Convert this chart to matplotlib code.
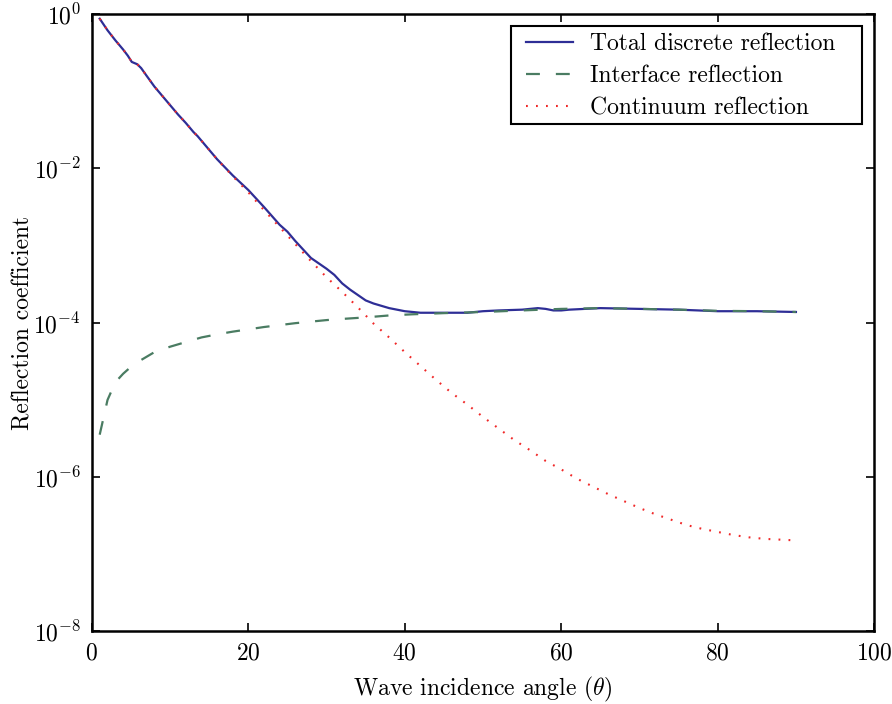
import numpy as np
import matplotlib
matplotlib.use("Agg")
import matplotlib.pyplot as plt
from matplotlib.patches import Rectangle
from matplotlib.ticker import NullLocator

plt.rcParams['font.family'] = 'serif'
plt.rcParams['font.serif'] = ['cmr10']
plt.rcParams['mathtext.fontset'] = 'cm'
plt.rcParams['axes.formatter.use_mathtext'] = True
plt.rcParams['lines.scale_dashes'] = False
plt.rcParams['font.size'] = 17

# log10 of the reflection coefficients, read per incidence angle (degrees)
theta_total = [1, 2, 3, 4, 4.6, 5.1, 5.8, 6.3, 7, 8, 9, 10, 11, 12, 13, 13.5, 14, 16, 18,
               20, 22, 24, 25, 26, 28, 30, 31, 32, 33, 34, 35, 36, 38, 40, 42, 45, 48,
               50, 52, 55, 57, 58, 59, 60, 61, 63, 65, 70, 75, 80, 85, 90]
log_total = [-0.06, -0.21, -0.34, -0.46, -0.54, -0.62, -0.65, -0.70, -0.80, -0.94, -1.06,
             -1.18, -1.30, -1.41, -1.53, -1.58, -1.64, -1.88, -2.09, -2.28, -2.50, -2.73,
             -2.82, -2.94, -3.16, -3.30, -3.38, -3.49, -3.57, -3.64, -3.71, -3.75, -3.81,
             -3.85, -3.87, -3.87, -3.87, -3.85, -3.84, -3.83, -3.81, -3.82, -3.84, -3.84,
             -3.83, -3.82, -3.81, -3.82, -3.83, -3.85, -3.85, -3.86]

theta_interface = [1, 2, 3, 4, 5, 6, 7, 8, 10, 12, 14, 16, 18, 20, 22, 24, 26, 28, 30, 32,
                   35, 38, 41, 45, 50, 55, 60, 65, 70, 75, 80, 85, 90]
log_interface = [-5.45, -5.00, -4.77, -4.66, -4.57, -4.50, -4.44, -4.38, -4.31, -4.25,
                 -4.19, -4.15, -4.115, -4.085, -4.055, -4.03, -4.005, -3.985, -3.965, -3.95,
                 -3.93, -3.905, -3.89, -3.875, -3.86, -3.84, -3.82, -3.81, -3.82, -3.83,
                 -3.845, -3.85, -3.86]

theta_continuum = [1, 2, 3, 4, 4.6, 5.1, 5.8, 6.3, 7, 8, 9, 10, 11, 12, 13, 13.5, 14, 16, 18,
                   20, 22, 24, 26, 28, 30, 32, 34, 36, 38, 40, 42, 44, 46, 48, 50, 52, 54,
                   56, 58, 60, 62, 64, 66, 68, 70, 72, 74, 76, 78, 80, 82, 84, 86, 88, 90]
log_continuum = [-0.06, -0.21, -0.34, -0.46, -0.54, -0.62, -0.65, -0.70, -0.80, -0.94, -1.06,
                 -1.18, -1.30, -1.41, -1.53, -1.58, -1.64, -1.88, -2.10, -2.31, -2.54, -2.76,
                 -2.98, -3.20, -3.41, -3.60, -3.80, -4.01, -4.19, -4.38, -4.56, -4.74, -4.91,
                 -5.06, -5.22, -5.37, -5.52, -5.65, -5.79, -5.90, -6.02, -6.12, -6.22, -6.31,
                 -6.40, -6.48, -6.55, -6.62, -6.67, -6.71, -6.75, -6.78, -6.80, -6.81, -6.82]

fig, ax = plt.subplots(figsize=(8.92, 7.04), dpi=100)
fig.subplots_adjust(left=0.103, right=0.980, top=0.980, bottom=0.103)

ax.semilogy(theta_total, 10 ** np.array(log_total), color='#2e2e96', lw=1.6,
            label='Total discrete reflection')
ax.semilogy(theta_interface, 10 ** np.array(log_interface), color='#4a7c62', lw=1.6,
            linestyle=(0, (10.0, 11.5)), label='Interface reflection')
ax.semilogy(theta_continuum, 10 ** np.array(log_continuum), color='#f02828', lw=1.5,
            linestyle=(0, (1.3, 5.9)), label='Continuum reflection')

ax.set_xlim(0, 100)
ax.set_ylim(1e-8, 1)
ax.set_yticks([1e-8, 1e-6, 1e-4, 1e-2, 1])
ax.yaxis.set_minor_locator(NullLocator())
ax.tick_params(direction='in', length=6, width=1.2, top=True, right=True, pad=8)
for s in ax.spines.values():
    s.set_linewidth(1.8)

ax.set_xlabel(r'Wave incidence angle ($\theta$)', labelpad=7)
ax.set_ylabel('Reflection coefficient', labelpad=-1)

# legend frame drawn as its own box so the entries can sit with extra room on the right
ax.add_patch(Rectangle((0.536, 0.822), 0.449, 0.159, transform=ax.transAxes,
                       facecolor='white', edgecolor='black', lw=1.5, zorder=4.9))
leg = ax.legend(loc='upper left', bbox_to_anchor=(0.549, 0.977), borderaxespad=0,
                frameon=False, handlelength=2.0, handletextpad=0.7, borderpad=0.2,
                labelspacing=0.42)

plt.savefig('out.png')
